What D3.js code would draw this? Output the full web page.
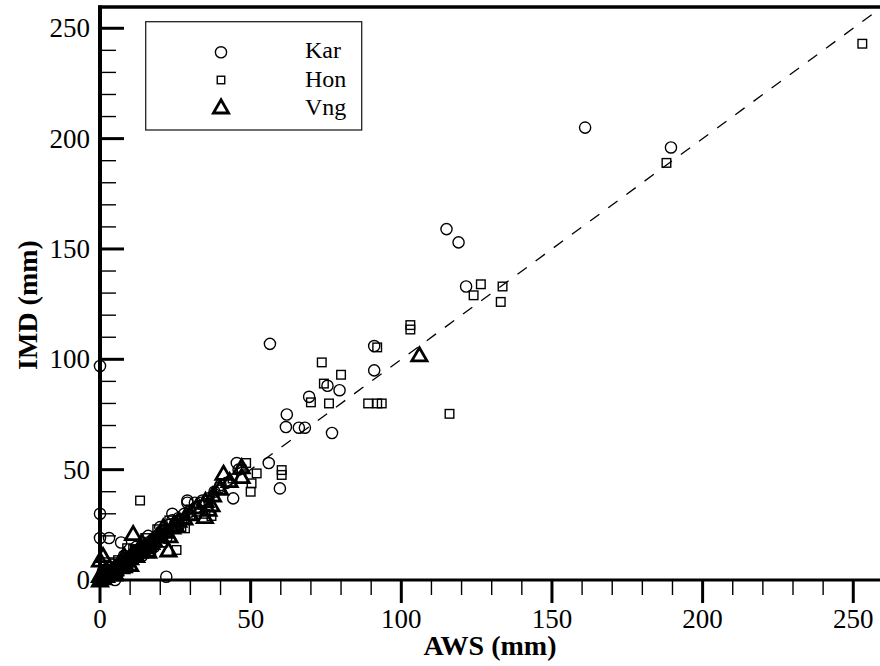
<!DOCTYPE html>
<html>
<head>
<meta charset="utf-8">
<script src="https://cdn.jsdelivr.net/npm/d3@7"></script>
<style>
  body { margin: 0; background: #fff; }
  svg { display: block; }
  text { font-family: "Liberation Serif", "Times New Roman", "DejaVu Serif", serif; }
</style>
</head>
<body>
<svg id="chart" width="880" height="666"></svg>
<script>
// series, [AWS, IMD] in mm
const kar = [
  [0, 0], [0.5, 2], [1, 1], [2, 3], [2, 1], [3, 4], [4, 3], [5, 6], [6, 5], [7, 8],
  [8, 7], [9, 10], [10, 9], [11, 12], [12, 11], [13, 14], [14, 15], [15, 14], [16, 17],
  [17, 16], [18, 19], [19, 20], [20, 21], [21, 22], [22, 23], [23, 25], [25, 26],
  [26, 28], [27, 27], [28, 30], [30, 31], [32, 33], [34, 36], [36, 37], [38, 40],
  [40, 43], [42, 44], [46, 50], [1, 4], [3, 1], [4, 7], [6, 3], [8, 11], [10, 6],
  [12, 15], [14, 11], [16, 20], [18, 15], [20, 24], [22, 19], [24, 27], [26, 24],
  [0, 97], [0, 30], [0, 19], [3, 19], [7, 17], [5, 0], [22, 1.5], [24, 30], [29, 36],
  [31.5, 35], [33.7, 35], [29, 35], [39.8, 42], [44.2, 37], [45.4, 53], [56, 53],
  [59.7, 41.5], [56.4, 107], [62, 75], [61.7, 69.3], [66, 69], [68, 69], [69.4, 83],
  [75.5, 88], [79.5, 86], [77, 66.6], [91, 106], [91, 95], [115, 159], [119, 153],
  [121.5, 133], [161, 205], [189.5, 196],
];
const hon = [
  [0, 0], [1, 2], [2, 1], [3, 3], [4, 5], [5, 4], [6, 6], [7, 8], [8, 7], [10, 11],
  [11, 10], [12, 13], [14, 14], [15, 16], [16, 15], [18, 18], [19, 20], [20, 19],
  [22, 23], [23, 22], [25, 25], [26, 27], [28, 28], [30, 32], [32, 31], [34, 34],
  [36, 36], [38, 38], [40, 41], [44, 46], [47, 50], [2, 5], [4, 2], [6, 9], [9, 6],
  [11, 14], [13, 10], [15, 19], [17, 13], [19, 23], [21, 17], [23, 27], [27, 24],
  [253, 243], [188, 189], [133.6, 133], [133, 126], [126.4, 134], [124, 129],
  [103, 115.5], [103, 113.5], [92, 105.4], [116, 75.3], [89, 80], [92, 80], [93.5, 80],
  [73.6, 98.6], [80, 93], [74.3, 89], [70, 80.5], [76, 80], [60.3, 49.8], [60.3, 47.6],
  [50.3, 43.8], [50, 40], [52, 48.3], [48.5, 53], [13.3, 36], [25.4, 13.6], [9, 14.4],
  [9.4, 5.3], [30, 29.5], [28.2, 23.4], [37, 29], [35, 30],
];
const vng = [
  [0, 0], [1, 1], [2, 2], [3, 3], [4, 4], [5, 5], [6, 7], [7, 6], [8, 8], [9, 9],
  [10, 10], [11, 12], [12, 11], [13, 13], [14, 14], [15, 15], [16, 16], [17, 17],
  [18, 18], [19, 20], [20, 20], [22, 22], [24, 24], [25, 25], [26, 27], [28, 28],
  [30, 30], [32, 33], [35, 36], [36, 32], [43, 45], [2, 5], [5, 3], [8, 11], [10, 7],
  [14, 17], [16, 13], [21, 24], [23, 20],
  [106, 102], [41, 48.3], [47, 51.3], [47, 46.8], [39.8, 41.5], [37.5, 38.5], [37, 34],
  [34.8, 28.7], [11, 21], [22.7, 13.6], [1, 11], [0, 2], [0, 9],
];
const seriesNames = ["Kar", "Hon", "Vng"];
const xTicks = [0, 50, 100, 150, 200, 250];
const yTicks = [0, 50, 100, 150, 200, 250];
const axisMax = 260;
const serif = "Liberation Serif, Times New Roman, DejaVu Serif, serif";

const svg = d3.select("#chart");

const x = d3.scaleLinear().domain([0, axisMax]).range([100, 883.4]);
const y = d3.scaleLinear().domain([0, axisMax]).range([580, 6.2]);

// minor ticks every 10 mm
const minorTicks = d3.range(0, axisMax + 1, 10).filter((d) => d % 50 !== 0);

// marker shapes
const triPath = "M0,-7.2L7.6,6L-7.6,6Z";

function drawCircle(g, px, py, r) {
  g.append("circle").attr("cx", px).attr("cy", py).attr("r", r)
    .attr("fill", "none").attr("stroke", "#000").attr("stroke-width", 1.4);
}
function drawSquare(g, px, py, s) {
  g.append("rect").attr("x", px - s / 2).attr("y", py - s / 2)
    .attr("width", s).attr("height", s)
    .attr("fill", "none").attr("stroke", "#000").attr("stroke-width", 1.4);
}
function drawTriangle(g, px, py) {
  g.append("path").attr("d", triPath).attr("transform", `translate(${px},${py})`)
    .attr("fill", "none").attr("stroke", "#000").attr("stroke-width", 2.8)
    .attr("stroke-linejoin", "miter");
}

svg.append("clipPath").attr("id", "clip")
  .append("rect").attr("x", 100).attr("y", 6).attr("width", 790).attr("height", 575);

const plot = svg.append("g").attr("clip-path", "url(#clip)");

// 1:1 reference line
plot.append("line")
  .attr("x1", x(0)).attr("y1", y(0))
  .attr("x2", x(axisMax)).attr("y2", y(axisMax))
  .attr("stroke", "#000").attr("stroke-width", 1.3)
  .attr("stroke-dasharray", "11.5,11");

const points = svg.append("g");
kar.forEach((d) => drawCircle(points, x(d[0]), y(d[1]), 5.6));
hon.forEach((d) => drawSquare(points, x(d[0]), y(d[1]), 8.6));
vng.forEach((d) => drawTriangle(points, x(d[0]), y(d[1])));

// frame: top border, left and bottom axes
svg.append("line").attr("x1", 98).attr("x2", 880).attr("y1", 7).attr("y2", 7)
  .attr("stroke", "#000").attr("stroke-width", 3.5);
svg.append("line").attr("x1", 100).attr("x2", 100).attr("y1", 5.5).attr("y2", 582)
  .attr("stroke", "#000").attr("stroke-width", 4);
svg.append("line").attr("x1", 98).attr("x2", 880).attr("y1", 580).attr("y2", 580)
  .attr("stroke", "#000").attr("stroke-width", 3.2);

// y ticks point inward
const yAxis = svg.append("g");
yAxis.selectAll(".major").data(yTicks).join("line")
  .attr("x1", 100).attr("x2", 124).attr("y1", (d) => y(d)).attr("y2", (d) => y(d))
  .attr("stroke", "#000").attr("stroke-width", 3);
yAxis.selectAll(".minor").data(minorTicks.filter((d) => d < axisMax)).join("line")
  .attr("x1", 100).attr("x2", 116).attr("y1", (d) => y(d)).attr("y2", (d) => y(d))
  .attr("stroke", "#000").attr("stroke-width", 1.4);
yAxis.selectAll("text").data(yTicks).join("text")
  .attr("x", 90).attr("y", (d) => y(d)).attr("dy", "0.34em")
  .attr("font-family", serif)
  .attr("text-anchor", "end").attr("font-size", 27).text((d) => d);

// x ticks point outward
const xAxis = svg.append("g");
xAxis.selectAll("line.major").data(xTicks).join("line")
  .attr("x1", (d) => x(d)).attr("x2", (d) => x(d)).attr("y1", 580).attr("y2", 603)
  .attr("stroke", "#000").attr("stroke-width", 3);
xAxis.selectAll("line.minor").data(minorTicks).join("line")
  .attr("x1", (d) => x(d)).attr("x2", (d) => x(d)).attr("y1", 580).attr("y2", 595)
  .attr("stroke", "#000").attr("stroke-width", 1.4);
xAxis.selectAll("text").data(xTicks).join("text")
  .attr("x", (d) => x(d)).attr("y", 628)
  .attr("font-family", serif)
  .attr("text-anchor", "middle").attr("font-size", 27).text((d) => d);

// axis titles
svg.append("text").attr("x", 490).attr("y", 655).attr("text-anchor", "middle")
  .attr("font-family", serif)
  .attr("font-size", 28).attr("font-weight", "bold").text("AWS (mm)");
svg.append("text").attr("transform", "translate(37,305) rotate(-90)")
  .attr("font-family", serif)
  .attr("text-anchor", "middle").attr("font-size", 28).attr("font-weight", "bold")
  .text("IMD (mm)");

// legend
const legend = svg.append("g");
legend.append("rect").attr("x", 145.7).attr("y", 21.7).attr("width", 216).attr("height", 108.3)
  .attr("fill", "#fff").attr("stroke", "#222").attr("stroke-width", 1.3);
drawCircle(legend, 221, 52.3, 5.6);
drawSquare(legend, 221, 80, 7.5);
drawTriangle(legend, 221, 107);
const legendY = [57.5, 86.5, 114.5];
legend.selectAll("text").data(seriesNames).join("text")
  .attr("x", 305).attr("y", (d, i) => legendY[i])
  .attr("font-family", serif)
  .attr("font-size", 24).text((d) => d);
</script>
</body>
</html>
